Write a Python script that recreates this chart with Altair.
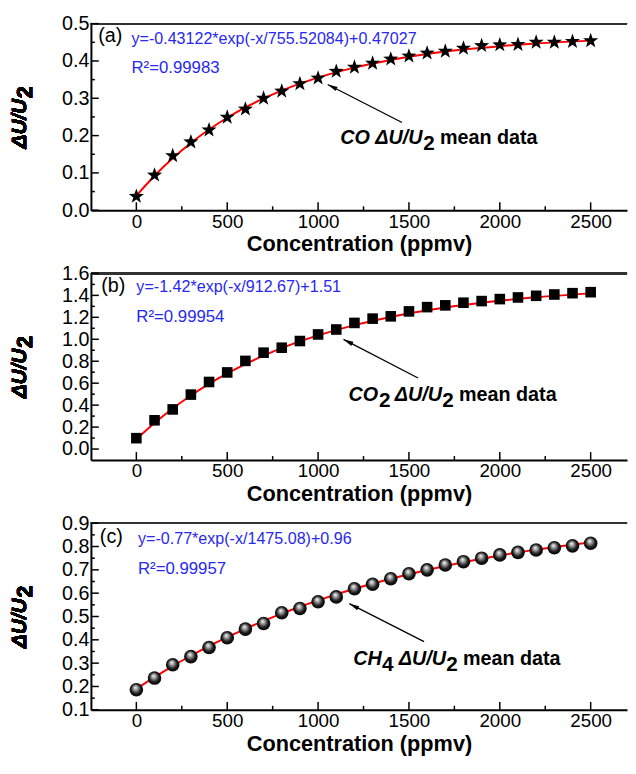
import altair as alt
import pandas as pd

FONT = "Liberation Sans"
W, H = 543, 189

# ---------------- data ----------------
conc = [0, 100, 200, 300, 400, 500, 600, 700, 800, 900, 1000, 1100, 1200,
        1300, 1400, 1500, 1600, 1700, 1800, 1900, 2000, 2100, 2200, 2300, 2400, 2500]
co_mean = [0.037, 0.094, 0.146, 0.183, 0.215, 0.249, 0.271, 0.300, 0.319, 0.339,
           0.354, 0.372, 0.383, 0.394, 0.405, 0.413, 0.421, 0.426, 0.434, 0.441,
           0.443, 0.444, 0.450, 0.450, 0.452, 0.454]
co2_mean = [0.099, 0.262, 0.361, 0.496, 0.611, 0.698, 0.803, 0.878, 0.923, 0.984,
            1.044, 1.089, 1.149, 1.188, 1.209, 1.254, 1.293, 1.309, 1.333, 1.348,
            1.366, 1.381, 1.396, 1.408, 1.420, 1.429]
ch4_mean = [0.186, 0.236, 0.293, 0.328, 0.367, 0.409, 0.446, 0.470, 0.516, 0.534,
            0.563, 0.584, 0.619, 0.638, 0.662, 0.683, 0.700, 0.721, 0.735, 0.750,
            0.764, 0.775, 0.785, 0.795, 0.803, 0.814]

fit_x = [0, 100, 200, 300, 400, 500, 600, 700, 800, 900, 1000, 1200, 1400, 1600,
         1800, 2000, 2200, 2500]
co_fit = [0.039, 0.0925, 0.1394, 0.1804, 0.2163, 0.2478, 0.2754, 0.2996, 0.3207,
          0.3392, 0.3555, 0.3822, 0.4027, 0.4184, 0.4305, 0.4397, 0.4468, 0.4545]
co2_fit = [0.090, 0.2374, 0.3695, 0.4878, 0.5939, 0.6890, 0.7742, 0.8506, 0.9190,
           0.9803, 1.0353, 1.1287, 1.2037, 1.2640, 1.3124, 1.3513, 1.3825, 1.4182]
ch4_fit = [0.190, 0.2404, 0.2876, 0.3317, 0.3729, 0.4114, 0.4473, 0.4809, 0.5123,
           0.5417, 0.5691, 0.6187, 0.6619, 0.6997, 0.7328, 0.7616, 0.7867, 0.8186]

x_major = [0, 500, 1000, 1500, 2000, 2500]
x_minor = [250, 750, 1250, 1750, 2250]

a_major = [0.0, 0.1, 0.2, 0.3, 0.4, 0.5]
a_minor = [0.05, 0.15, 0.25, 0.35, 0.45]
b_major = [0.0, 0.2, 0.4, 0.6, 0.8, 1.0, 1.2, 1.4, 1.6]
b_minor = [0.1, 0.3, 0.5, 0.7, 0.9, 1.1, 1.3, 1.5]
c_major = [0.1, 0.2, 0.3, 0.4, 0.5, 0.6, 0.7, 0.8, 0.9]
c_minor = [0.15, 0.25, 0.35, 0.45, 0.55, 0.65, 0.75, 0.85]

equations = ["y=-0.43122*exp(-x/755.52084)+0.47027",
             "y=-1.42*exp(-x/912.67)+1.51",
             "y=-0.77*exp(-x/1475.08)+0.96"]
r_squared = ["R²=0.99983", "R²=0.99954", "R²=0.99957"]
panel_tags = ["(a)", "(b)", "(c)"]

STAR = ("M0,-1L0.2351,-0.3236L0.9511,-0.309L0.3804,0.1236L0.5878,0.809L0,0.4"
        "L-0.5878,0.809L-0.3804,0.1236L-0.9511,-0.309L-0.2351,-0.3236Z")
ARROW = "M0,0L-0.3,1.3L0.3,1.3Z"

XS = alt.Scale(domain=[-250, 2700], nice=False, zero=False)
XAXIS = alt.Axis(values=x_major, format="d", ticks=False, labelFont=FONT,
                 labelFontSize=19, labelColor="black", labelPadding=2,
                 labelFlush=False, labelOverlap=False, title="Concentration (ppmv)",
                 titleFont=FONT, titleFontSize=22, titleFontWeight="bold",
                 titleColor="black", titlePadding=3, domainColor="black",
                 domainWidth=2, grid=False)


def panel(means, fits, ydom, ymaj, ymin, mark, tag, eq, r2, tagpos, eqpos, r2pos,
          ann_anchor, ann_pieces, arrow):
    ys = alt.Scale(domain=ydom, nice=False, zero=False)
    yaxis = alt.Axis(values=ymaj, format=".1f", ticks=False, labelFont=FONT,
                     labelFontSize=20, labelColor="black", labelPadding=2,
                     labelFlush=False, labelOverlap=False, title=None,
                     domainColor="black", domainWidth=2, grid=False)

    def X(f):
        return alt.X(f, type="quantitative", scale=XS, axis=XAXIS)

    def Y(f):
        return alt.Y(f, type="quantitative", scale=ys, axis=yaxis)

    pts = pd.DataFrame({"x": conc, "y": means})
    fit = pd.DataFrame({"x": fit_x, "y": fits})

    base_pts = alt.Chart(pts)
    if mark == "star":
        pm = base_pts.mark_point(shape=STAR, filled=True, size=260, color="black",
                                 opacity=1)
    elif mark == "square":
        pm = base_pts.mark_point(shape="square", filled=True, size=115, color="black",
                                 opacity=1)
    else:
        grad = alt.RadialGradient(
            gradient="radial",
            stops=[alt.GradientStop(offset=0, color="#ffffff"),
                   alt.GradientStop(offset=0.3, color="#9a9a9a"),
                   alt.GradientStop(offset=0.65, color="#1a1a1a"),
                   alt.GradientStop(offset=1, color="#000000")],
            x1=0.42, y1=0.32, r1=0, x2=0.5, y2=0.5, r2=0.55)
        pm = base_pts.mark_point(shape="circle", filled=True, size=190, fill=grad,
                                 opacity=1, strokeWidth=0)
    points = pm.encode(x=X("x"), y=Y("y"))

    line = alt.Chart(fit).mark_line(color="#ff0000", strokeWidth=2,
                                    interpolate="monotone").encode(x=X("x"), y=Y("y"))

    top = alt.Chart(pts).mark_rule(color="#333333", strokeWidth=1.5).encode(
        x=alt.value(0), x2=alt.value(W), y=alt.value(0))

    def xt(vals, ln):
        return alt.Chart(pd.DataFrame({"v": vals})).mark_rule(
            color="black", strokeWidth=1.5).encode(
            x=X("v"), y=alt.value(H), y2=alt.value(H - ln))

    def yt(vals, ln):
        return alt.Chart(pd.DataFrame({"v": vals})).mark_rule(
            color="black", strokeWidth=1.5).encode(
            y=Y("v"), x=alt.value(0), x2=alt.value(ln))

    (tx, ty), (ax, ay) = arrow
    arr = pd.DataFrame({"x": [tx], "y": [ty], "x2": [ax], "y2": [ay]})
    shaft = alt.Chart(arr).mark_rule(color="black", strokeWidth=1.3).encode(
        x=X("x"), y=Y("y"), x2="x2:Q", y2="y2:Q")
    head = alt.Chart(arr).mark_point(
        shape=ARROW, filled=True, color="black", opacity=1,
        size=240, angle=297).encode(x=X("x2"), y=Y("y2"))

    def text_layer(x, y, text, dx=0, dy=0, size=20, weight="bold", style="normal",
                   color="black", baseline="alphabetic"):
        df = pd.DataFrame({"x": [x], "y": [y], "t": [text]})
        return alt.Chart(df).mark_text(
            font=FONT, fontSize=size, fontWeight=weight, fontStyle=style,
            color=color, align="left", baseline=baseline, dx=dx, dy=dy
        ).encode(x=X("x"), y=Y("y"), text="t:N")

    texts = [
        text_layer(tagpos[0], tagpos[1], tag, size=20, weight="normal",
                   baseline="middle"),
        text_layer(eqpos[0], eqpos[1], eq, size=16.3, weight="normal",
                   color="#2828f0", baseline="middle"),
        text_layer(r2pos[0], r2pos[1], r2, size=17, weight="normal",
                   color="#2828f0", baseline="middle"),
    ]
    for (t, dx, dy, sz, st) in ann_pieces:
        texts.append(text_layer(ann_anchor[0], ann_anchor[1], t, dx=dx, dy=dy,
                                size=sz, style=st))

    ytitle = [
        alt.Chart(pts).mark_text(font=FONT, fontSize=21, fontWeight="bold",
                                 fontStyle="italic", angle=270, align="left",
                                 baseline="alphabetic", text="ΔU/U").encode(
            x=alt.value(-66), y=alt.value(H / 2 + 32)),
        alt.Chart(pts).mark_text(font=FONT, fontSize=22, fontWeight="bold",
                                 angle=270, align="left", baseline="alphabetic",
                                 dx=51, dy=6, text="2").encode(
            x=alt.value(-66), y=alt.value(H / 2 + 32)),
    ]

    return alt.layer(top, xt(x_major, 8), xt(x_minor, 4), yt(ymaj, 8), yt(ymin, 4),
                     line, points, shaft, head, *texts, *ytitle).properties(
        width=W, height=H)


pa = panel(co_mean, co_fit, [0, 0.5], a_major, a_minor, "star", panel_tags[0],
           equations[0], r_squared[0], (-210, 0.466), (-27, 0.460), (-27, 0.381),
           (1122, 0.178),
           [("CO ΔU/U", 0, 0, 20, "italic"), ("2", 84, 6, 21, "normal"),
            ("mean data", 101, 0, 20, "normal")],
           ((1462, 0.235), (1053, 0.337)))
pb = panel(co2_mean, co2_fit, [-0.1, 1.6], b_major, b_minor, "square", panel_tags[1],
           equations[1], r_squared[1], (-193, 1.489), (0, 1.474), (0, 1.203),
           (1167, 0.436),
           [("CO", 0, 0, 20, "italic"), ("2", 31, 6, 21, "normal"),
            ("ΔU/U", 47, 0, 20, "italic"), ("2", 95, 6, 21, "normal"),
            ("mean data", 112, 0, 20, "normal")],
           ((1550, 0.647), (1140, 0.999)))
pc = panel(ch4_mean, ch4_fit, [0.1, 0.9], c_major, c_minor, "sphere", panel_tags[2],
           equations[2], r_squared[2], (-201, 0.840), (9, 0.832), (9, 0.704),
           (1194, 0.293),
           [("CH", 0, 0, 20, "italic"), ("4", 29, 6, 21, "normal"),
            ("ΔU/U", 46, 0, 20, "italic"), ("2", 94, 6, 21, "normal"),
            ("mean data", 111, 0, 20, "normal")],
           ((1583, 0.392), (1172, 0.555)))

chart = alt.vconcat(pa, pb, pc, spacing=64, bounds="flush").properties(
    padding={"left": 1, "top": 1, "right": 0, "bottom": 0},
    background="white"
).configure_view(stroke=None)

chart.save("out.html", embed_options={"renderer": "svg", "actions": False})
